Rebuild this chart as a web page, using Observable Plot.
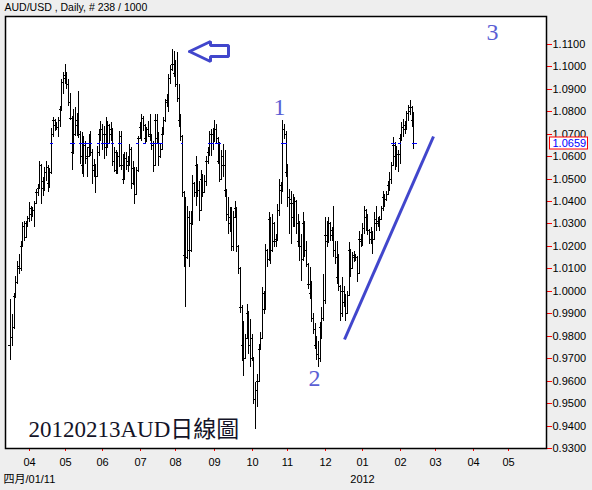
<!DOCTYPE html>
<html>
<head>
<meta charset="utf-8">
<script src="https://cdn.jsdelivr.net/npm/d3@7"></script>
<script src="https://cdn.jsdelivr.net/npm/@observablehq/plot@0.6"></script>
<style>
  html, body { margin: 0; padding: 0; background: #eeeeee; }
  #chart svg { display: block; }
</style>
</head>
<body>
<div id="chart"></div>
<script>
// AUD/USD daily OHLC, one bar per weekday starting 2011-03-17 (238 bars, last one 2012-02-13)
const symbolTitle = "AUD/USD , Daily, # 238 / 1000";
const firstDay = "2011-03-17";

const opens = [
  0.9760,0.9795,0.9840,0.9975,1.0040,1.0110,1.0100,1.0200,1.0290,1.0240,
  1.0300,1.0325,1.0370,1.0340,1.0360,1.0390,1.0440,1.0460,1.0560,1.0460,
  1.0490,1.0530,1.0550,1.0480,1.0530,1.0700,1.0760,1.0740,1.0730,1.0760,
  1.0810,1.0930,1.0950,1.0960,1.0920,1.0840,1.0770,1.0620,1.0700,1.0740,
  1.0760,1.0700,1.0600,1.0560,1.0650,1.0590,1.0600,1.0640,1.0620,1.0540,
  1.0560,1.0510,1.0620,1.0700,1.0720,1.0660,1.0700,1.0640,1.0740,1.0700,
  1.0720,1.0580,1.0620,1.0540,1.0600,1.0690,1.0560,1.0500,1.0590,1.0560,
  1.0580,1.0630,1.0480,1.0545,1.0430,1.0540,1.0680,1.0730,1.0770,1.0740,
  1.0680,1.0720,1.0700,1.0690,1.0650,1.0560,1.0760,1.0680,1.0600,1.0630,
  1.0700,1.0760,1.0840,1.0850,1.0950,1.0990,1.1010,1.0970,1.0920,1.0860,
  1.0760,1.0690,1.0440,1.0160,1.0150,1.0330,1.0180,1.0300,1.0480,1.0440,
  1.0560,1.0450,1.0360,1.0500,1.0440,1.0490,1.0580,1.0620,1.0700,1.0660,
  1.0700,1.0720,1.0680,1.0580,1.0500,1.0600,1.0560,1.0450,1.0340,1.0300,
  1.0330,1.0200,1.0330,1.0370,1.0200,1.0100,0.9930,0.9760,0.9700,0.9790,
  0.9900,0.9760,0.9790,0.9700,0.9520,0.9560,0.9600,0.9740,0.9790,0.9990,
  0.9920,1.0180,1.0140,1.0320,1.0180,1.0300,1.0220,1.0230,1.0360,1.0470,
  1.0450,1.0720,1.0700,1.0530,1.0420,1.0410,1.0390,1.0330,1.0400,1.0300,
  1.0220,1.0200,1.0140,1.0300,1.0180,1.0120,1.0030,0.9990,0.9880,0.9830,
  0.9760,0.9720,0.9700,0.9840,0.9880,0.9960,1.0250,1.0220,1.0300,1.0250,
  1.0270,1.0180,1.0150,1.0060,1.0020,0.9900,1.0000,0.9950,0.9900,0.9980,
  1.0180,1.0100,1.0150,1.0160,1.0150,1.0080,1.0230,1.0220,1.0280,1.0360,
  1.0330,1.0270,1.0230,1.0260,1.0230,1.0320,1.0300,1.0310,1.0320,1.0370,
  1.0420,1.0410,1.0430,1.0470,1.0500,1.0560,1.0650,1.0600,1.0610,1.0610,
  1.0680,1.0730,1.0740,1.0720,1.0790,1.0800,1.0820,1.0760
];

const highs = [
  0.9964,0.9897,0.9990,1.0068,1.0134,1.0164,1.0223,1.0305,1.0313,1.0313,
  1.0335,1.0394,1.0380,1.0372,1.0402,1.0454,1.0476,1.0580,1.0565,1.0506,
  1.0550,1.0580,1.0560,1.0545,1.0726,1.0776,1.0765,1.0750,1.0776,1.0825,
  1.0944,1.0974,1.1011,1.0975,1.0944,1.0880,1.0780,1.0810,1.0818,1.0790,
  1.0892,1.0714,1.0706,1.0691,1.0669,1.0639,1.0699,1.0714,1.0632,1.0587,
  1.0565,1.0647,1.0721,1.0758,1.0744,1.0736,1.0773,1.0758,1.0745,1.0751,
  1.0725,1.0640,1.0625,1.0617,1.0714,1.0714,1.0610,1.0617,1.0617,1.0602,
  1.0652,1.0640,1.0580,1.0550,1.0550,1.0690,1.0751,1.0788,1.0780,1.0745,
  1.0729,1.0758,1.0788,1.0699,1.0669,1.0788,1.0788,1.0706,1.0655,1.0729,
  1.0773,1.0855,1.0877,1.0966,1.1004,1.1078,1.1070,1.1026,1.1063,1.0922,
  1.0788,1.0695,1.0445,1.0417,1.0380,1.0357,1.0357,1.0514,1.0484,1.0602,
  1.0565,1.0491,1.0536,1.0521,1.0514,1.0602,1.0640,1.0714,1.0721,1.0723,
  1.0762,1.0745,1.0685,1.0662,1.0625,1.0655,1.0625,1.0455,1.0416,1.0372,
  1.0372,1.0357,1.0401,1.0375,1.0205,1.0105,0.9935,0.9867,0.9808,0.9942,
  0.9912,0.9875,0.9808,0.9705,0.9593,0.9630,0.9763,0.9815,1.0016,1.0001,
  1.0209,1.0185,1.0349,1.0327,1.0342,1.0305,1.0253,1.0386,1.0498,1.0483,
  1.0760,1.0745,1.0714,1.0565,1.0454,1.0446,1.0431,1.0416,1.0405,1.0342,
  1.0312,1.0253,1.0349,1.0312,1.0224,1.0125,1.0105,1.0045,0.9900,0.9857,
  0.9800,0.9778,0.9860,0.9926,1.0075,1.0328,1.0313,1.0328,1.0305,1.0283,
  1.0380,1.0223,1.0223,1.0164,1.0025,1.0060,1.0023,0.9986,1.0001,1.0216,
  1.0185,1.0172,1.0179,1.0164,1.0157,1.0268,1.0253,1.0300,1.0380,1.0365,
  1.0340,1.0275,1.0283,1.0265,1.0350,1.0380,1.0328,1.0335,1.0380,1.0446,
  1.0432,1.0446,1.0491,1.0528,1.0573,1.0684,1.0662,1.0647,1.0625,1.0699,
  1.0751,1.0766,1.0758,1.0803,1.0826,1.0848,1.0825,1.0796
];

const lows = [
  0.9692,0.9756,0.9830,0.9970,1.0030,1.0075,1.0090,1.0195,1.0223,1.0235,
  1.0283,1.0305,1.0313,1.0328,1.0283,1.0387,1.0424,1.0455,1.0387,1.0424,
  1.0446,1.0491,1.0439,1.0460,1.0520,1.0684,1.0714,1.0715,1.0684,1.0729,
  1.0800,1.0877,1.0922,1.0900,1.0825,1.0760,1.0536,1.0610,1.0690,1.0690,
  1.0680,1.0565,1.0521,1.0506,1.0565,1.0506,1.0595,1.0602,1.0476,1.0506,
  1.0435,1.0506,1.0602,1.0669,1.0625,1.0587,1.0602,1.0635,1.0654,1.0669,
  1.0558,1.0528,1.0521,1.0521,1.0550,1.0536,1.0476,1.0499,1.0536,1.0528,
  1.0558,1.0454,1.0470,1.0387,1.0425,1.0530,1.0675,1.0669,1.0714,1.0655,
  1.0661,1.0684,1.0669,1.0625,1.0528,1.0555,1.0655,1.0558,1.0590,1.0625,
  1.0699,1.0751,1.0818,1.0795,1.0922,1.0981,1.0952,1.0907,1.0840,1.0729,
  1.0669,1.0417,1.0105,0.9926,1.0142,1.0105,1.0175,1.0295,1.0417,1.0380,
  1.0417,1.0313,1.0355,1.0417,1.0435,1.0469,1.0565,1.0600,1.0600,1.0625,
  1.0662,1.0655,1.0565,1.0483,1.0495,1.0506,1.0416,1.0312,1.0253,1.0260,
  1.0179,1.0179,1.0325,1.0172,1.0075,0.9900,0.9689,0.9622,0.9695,0.9785,
  0.9719,0.9660,0.9689,0.9496,0.9385,0.9481,0.9595,0.9735,0.9785,0.9897,
  0.9915,1.0105,1.0135,1.0120,1.0175,1.0194,1.0194,1.0224,1.0335,1.0386,
  1.0440,1.0677,1.0506,1.0372,1.0253,1.0209,1.0283,1.0283,1.0253,1.0194,
  1.0135,1.0045,1.0135,1.0150,1.0105,1.0008,0.9964,0.9860,0.9808,0.9740,
  0.9690,0.9660,0.9681,0.9786,0.9867,0.9941,1.0194,1.0215,1.0223,1.0223,
  1.0149,1.0119,1.0030,1.0001,0.9867,0.9882,0.9926,0.9867,0.9895,0.9975,
  1.0060,1.0095,1.0127,1.0134,1.0038,1.0075,1.0194,1.0200,1.0253,1.0268,
  1.0250,1.0209,1.0209,1.0164,1.0225,1.0268,1.0283,1.0268,1.0315,1.0357,
  1.0372,1.0400,1.0425,1.0446,1.0476,1.0555,1.0536,1.0551,1.0528,1.0565,
  1.0669,1.0684,1.0699,1.0715,1.0758,1.0781,1.0729,1.0632
];

const closes = [
  0.9795,0.9840,0.9975,1.0040,1.0110,1.0100,1.0200,1.0290,1.0240,1.0300,
  1.0325,1.0370,1.0340,1.0360,1.0390,1.0440,1.0460,1.0560,1.0460,1.0490,
  1.0530,1.0550,1.0480,1.0530,1.0700,1.0760,1.0740,1.0730,1.0760,1.0810,
  1.0930,1.0950,1.0960,1.0920,1.0840,1.0770,1.0620,1.0700,1.0740,1.0760,
  1.0700,1.0600,1.0560,1.0650,1.0590,1.0600,1.0640,1.0620,1.0540,1.0560,
  1.0510,1.0620,1.0700,1.0720,1.0660,1.0700,1.0640,1.0740,1.0700,1.0720,
  1.0580,1.0620,1.0540,1.0600,1.0690,1.0560,1.0500,1.0590,1.0560,1.0580,
  1.0630,1.0480,1.0545,1.0430,1.0540,1.0680,1.0730,1.0770,1.0740,1.0680,
  1.0720,1.0700,1.0690,1.0650,1.0560,1.0760,1.0680,1.0600,1.0630,1.0700,
  1.0760,1.0840,1.0850,1.0950,1.0990,1.1010,1.0970,1.0920,1.0860,1.0760,
  1.0690,1.0440,1.0160,1.0150,1.0330,1.0180,1.0300,1.0480,1.0440,1.0560,
  1.0450,1.0360,1.0500,1.0440,1.0490,1.0580,1.0620,1.0700,1.0660,1.0700,
  1.0720,1.0680,1.0580,1.0500,1.0600,1.0560,1.0450,1.0340,1.0300,1.0330,
  1.0200,1.0330,1.0370,1.0200,1.0100,0.9930,0.9760,0.9700,0.9790,0.9900,
  0.9760,0.9790,0.9700,0.9520,0.9560,0.9600,0.9740,0.9790,0.9990,0.9920,
  1.0180,1.0140,1.0320,1.0180,1.0300,1.0220,1.0230,1.0360,1.0470,1.0450,
  1.0720,1.0700,1.0530,1.0420,1.0410,1.0390,1.0330,1.0400,1.0300,1.0220,
  1.0200,1.0140,1.0300,1.0180,1.0120,1.0030,0.9990,0.9880,0.9830,0.9760,
  0.9720,0.9700,0.9840,0.9880,0.9960,1.0250,1.0220,1.0300,1.0250,1.0270,
  1.0180,1.0150,1.0060,1.0020,0.9900,1.0000,0.9950,0.9900,0.9980,1.0180,
  1.0100,1.0150,1.0160,1.0150,1.0080,1.0230,1.0220,1.0280,1.0360,1.0330,
  1.0270,1.0230,1.0260,1.0230,1.0320,1.0300,1.0310,1.0320,1.0370,1.0420,
  1.0410,1.0430,1.0470,1.0500,1.0560,1.0650,1.0600,1.0610,1.0610,1.0680,
  1.0730,1.0740,1.0720,1.0790,1.0800,1.0820,1.0760,1.0659
];

const lastPrice = 1.0659;

// Price axis ticks (right side)
const priceTicks = [0.93,0.94,0.95,0.96,0.97,0.98,0.99,1.00,1.01,1.02,
                    1.03,1.04,1.05,1.06,1.07,1.08,1.09,1.10,1.11];

// Month ticks: first weekday of each month, and their labels
const monthStarts = ["2011-04-01","2011-05-02","2011-06-01","2011-07-01","2011-08-01",
                     "2011-09-01","2011-10-03","2011-11-01","2011-12-01","2012-01-02",
                     "2012-02-01","2012-03-01","2012-04-02","2012-05-01"];
const monthLabels = ["04","05","06","07","08","09","10","11","12","01","02","03","04","05"];
const yearMark = {date: "2012-01-02", label: "2012"};
const startLabel = "四月/01/11";
const noteText = "20120213AUD日線圖";

// Hand-drawn annotations, in bar-index / price units
const waveLabels = [
  {label: "1", bar: 158.2, price: 1.0817},
  {label: "2", bar: 178.5, price: 0.9610},
  {label: "3", bar: 283.2, price: 1.1151}
];
const trendLine = [
  {bar: 196.3, price: 0.9786},
  {bar: 248.4, price: 1.0690}
];
const arrowOutline = [
  {bar: 105.1, price: 1.1068},
  {bar: 117.2, price: 1.1113},
  {bar: 117.2, price: 1.1093},
  {bar: 127.8, price: 1.1093},
  {bar: 127.8, price: 1.1048},
  {bar: 117.2, price: 1.1048},
  {bar: 117.2, price: 1.1024},
  {bar: 105.1, price: 1.1068}
];

// Count weekdays from the first bar's date up to (not including) a date
function weekdayIndex(dateStr) {
  const d = new Date(firstDay + "T00:00:00Z");
  const end = new Date(dateStr + "T00:00:00Z");
  let n = 0;
  while (d < end) {
    const w = d.getUTCDay();
    if (w !== 0 && w !== 6) n++;
    d.setUTCDate(d.getUTCDate() + 1);
  }
  return n;
}

const bars = opens.map((o, i) => ({i, o, h: highs[i], l: lows[i], c: closes[i]}));
const monthTicks = monthStarts.map((s, k) => ({idx: weekdayIndex(s), label: monthLabels[k]}));
const monthLabelAt = new Map(monthTicks.map(d => [d.idx, d.label]));
const yearIdx = weekdayIndex(yearMark.date);
const lastBar = bars[bars.length - 1];
const crossing = bars.filter(d => d.l <= lastPrice && d.h >= lastPrice);

const uiFont = "'Liberation Sans', Arial, 'Noto Sans CJK TC', sans-serif";
const annotColor = "#4146cc";

const chart = Plot.plot({
  width: 592,
  height: 490,
  marginLeft: 5,
  marginRight: 46,
  marginTop: 16,
  marginBottom: 42,
  x: {type: "linear", domain: [-3.12, 315.1], round: true},
  y: {domain: [0.93, 1.1224], round: true},
  style: {background: "#eeeeee", fontFamily: uiFont, fontSize: "11px", color: "black"},
  marks: [
    Plot.frame({fill: "white", stroke: "none"}),
    // high-low bars with open (left) and close (right) ticks
    Plot.ruleX(bars, {x: "i", y1: "l", y2: "h", stroke: "black", strokeWidth: 1, shapeRendering: "crispEdges"}),
    Plot.ruleY(bars, {y: "o", x1: d => d.i - 1.2, x2: "i", stroke: "black", strokeWidth: 1, shapeRendering: "crispEdges"}),
    Plot.ruleY(bars, {y: "c", x1: "i", x2: d => d.i + 1.2, stroke: "black", strokeWidth: 1, shapeRendering: "crispEdges"}),
    // last-price marker across bars that trade through it
    Plot.ruleY(crossing, {y: () => lastPrice, x1: d => d.i - 0.85, x2: d => d.i + 0.85, stroke: "#0000ff", strokeWidth: 1, shapeRendering: "crispEdges"}),
    Plot.ruleY([lastBar], {y: "c", x1: "i", x2: d => d.i + 2.2, stroke: "#0000ff", strokeWidth: 1, shapeRendering: "crispEdges"}),
    // annotations
    Plot.line(trendLine, {x: "bar", y: "price", stroke: annotColor, strokeWidth: 3, strokeLinecap: "butt"}),
    Plot.line(arrowOutline, {x: "bar", y: "price", stroke: annotColor, strokeWidth: 3, strokeLinejoin: "miter", curve: "linear"}),
    Plot.text(waveLabels, {x: "bar", y: "price", text: "label", lineAnchor: "middle",
      fontFamily: "'Liberation Serif', 'Times New Roman', serif", fontSize: 24, fill: "#5a5ed4"}),
    Plot.text([noteText], {frameAnchor: "bottom-left", dx: 23, dy: -19, textAnchor: "start", lineAnchor: "middle",
      fontFamily: "'Liberation Serif', 'Noto Sans CJK TC', serif", fontSize: 23, fill: "#141428"}),
    // header and footer texts
    Plot.text([symbolTitle], {frameAnchor: "top-left", dx: -1, dy: -9, textAnchor: "start", lineAnchor: "middle",
      fontSize: 10.5, fill: "black"}),
    Plot.text([startLabel], {frameAnchor: "bottom-left", dx: -2, dy: 31, textAnchor: "start", lineAnchor: "middle",
      fontSize: 11, fill: "black"}),
    Plot.text([yearMark.label], {x: () => yearIdx, frameAnchor: "bottom", dy: 31, lineAnchor: "middle",
      fontSize: 11, fill: "black"}),
    // axes
    Plot.axisX(monthTicks.map(d => d.idx), {anchor: "bottom", tickSize: 3, tickPadding: 7, label: null,
      tickFormat: d => monthLabelAt.get(d), stroke: "#ff0000", fill: "black", fontSize: 11}),
    Plot.axisY(priceTicks, {anchor: "right", tickSize: 5, tickPadding: 1, label: null,
      tickFormat: d => d.toFixed(4), stroke: "#ff0000", fill: "black", fontSize: 11}),
    Plot.frame({stroke: "black", strokeWidth: 1.5})
  ]
});

// Current price box on the price axis
const svg = d3.select(chart);
const py = Math.round(chart.scale("y").apply(lastPrice));
const frameRight = 592 - 46;
svg.append("rect")
  .attr("x", frameRight + 3.5).attr("y", py - 6)
  .attr("width", 38).attr("height", 12)
  .attr("fill", "white").attr("stroke", "#ff0000").attr("stroke-width", 1);
svg.append("text")
  .attr("x", frameRight + 6.5).attr("y", py).attr("dy", "0.36em")
  .attr("text-anchor", "start")
  .attr("fill", "#0000ff")
  .style("font", "11px " + uiFont)
  .text(lastPrice.toFixed(4));

document.getElementById("chart").appendChild(chart);
</script>
</body>
</html>
